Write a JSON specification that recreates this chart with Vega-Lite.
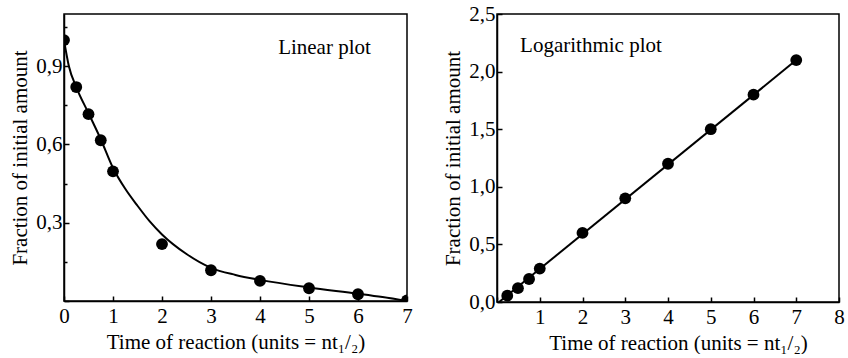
{
  "$schema": "https://vega.github.io/schema/vega-lite/v6.json",
  "padding": {"left": 9, "top": 2, "right": 0, "bottom": 0},
  "background": "white",
  "spacing": 29,
  "datasets": {
    "lin_points": [
      {"t": 0, "f": 1.0}, {"t": 0.25, "f": 0.82}, {"t": 0.5, "f": 0.716}, {"t": 0.75, "f": 0.616},
      {"t": 1, "f": 0.497}, {"t": 2, "f": 0.218}, {"t": 3, "f": 0.118}, {"t": 4, "f": 0.077},
      {"t": 5, "f": 0.049}, {"t": 6, "f": 0.026}, {"t": 7, "f": 0.002}
    ],
    "lin_curve": [
      {"t": 0, "f": 1.0}, {"t": 0.1, "f": 0.9}, {"t": 0.25, "f": 0.82}, {"t": 0.5, "f": 0.72},
      {"t": 0.75, "f": 0.62}, {"t": 1, "f": 0.51}, {"t": 1.25, "f": 0.43}, {"t": 1.5, "f": 0.365},
      {"t": 1.75, "f": 0.305}, {"t": 2, "f": 0.255}, {"t": 2.5, "f": 0.18}, {"t": 3, "f": 0.127},
      {"t": 3.5, "f": 0.1}, {"t": 4, "f": 0.081}, {"t": 5, "f": 0.052}, {"t": 6, "f": 0.028},
      {"t": 6.5, "f": 0.015}, {"t": 7, "f": 0.0}
    ],
    "log_points": [
      {"t": 0.24, "f": 0.055}, {"t": 0.49, "f": 0.12}, {"t": 0.75, "f": 0.2}, {"t": 1, "f": 0.29},
      {"t": 2, "f": 0.6}, {"t": 3, "f": 0.9}, {"t": 4, "f": 1.2}, {"t": 5, "f": 1.5},
      {"t": 6, "f": 1.8}, {"t": 7, "f": 2.1}
    ],
    "log_line": [
      {"t": 0.05, "f": 0.0}, {"t": 7, "f": 2.1}
    ]
  },
  "hconcat": [
    {
      "width": 343,
      "height": 287,
      "layer": [
        {
          "data": {"name": "lin_curve"},
          "mark": {"type": "line", "interpolate": "monotone", "color": "black", "strokeWidth": 2, "clip": true},
          "encoding": {
            "x": {
              "field": "t", "type": "quantitative",
              "scale": {"domain": [0, 7], "nice": false, "zero": false},
              "axis": {
                "title": "Time of reaction (units = nt₁/₂)",
                "values": [0, 0.5, 1, 1.5, 2, 2.5, 3, 3.5, 4, 4.5, 5, 5.5, 6, 6.5, 7],
                "labelExpr": "datum.value % 1 === 0 ? format(datum.value, 'd') : ''",
                "tickSize": {"condition": {"test": "datum.value % 1 !== 0", "value": -3}, "value": -5}
              }
            },
            "y": {
              "field": "f", "type": "quantitative",
              "scale": {"domain": [0, 1.1], "nice": false, "zero": false},
              "axis": {
                "title": "Fraction of initial amount",
                "labelPadding": 7,
                "values": [0, 0.15, 0.3, 0.45, 0.6, 0.75, 0.9, 1.05],
                "labelExpr": "(datum.value > 0.01 && abs(datum.value / 0.3 - round(datum.value / 0.3)) < 0.001) ? replace(format(datum.value, '.1f'), '.', ',') : ''",
                "tickSize": {"condition": {"test": "abs(datum.value / 0.3 - round(datum.value / 0.3)) > 0.001", "value": -3}, "value": -5}
              }
            }
          }
        },
        {
          "data": {"name": "lin_points"},
          "mark": {"type": "circle", "color": "black", "opacity": 1, "size": 140, "clip": true},
          "encoding": {
            "x": {"field": "t", "type": "quantitative"},
            "y": {"field": "f", "type": "quantitative"}
          }
        },
        {
          "data": {"values": [{"label": "Linear plot"}]},
          "mark": {"type": "text", "align": "left", "baseline": "middle", "font": "Liberation Serif", "fontSize": 21, "color": "black"},
          "encoding": {
            "x": {"datum": 4.37, "type": "quantitative"},
            "y": {"datum": 0.97, "type": "quantitative"},
            "text": {"field": "label", "type": "nominal"}
          }
        }
      ]
    },
    {
      "width": 342,
      "height": 288,
      "layer": [
        {
          "data": {"name": "log_line"},
          "mark": {"type": "line", "color": "black", "strokeWidth": 2, "clip": true},
          "encoding": {
            "x": {
              "field": "t", "type": "quantitative",
              "scale": {"domain": [0, 8], "nice": false, "zero": false},
              "axis": {
                "title": "Time of reaction (units = nt₁/₂)",
                "titleX": 181,
                "values": [0, 0.5, 1, 1.5, 2, 2.5, 3, 3.5, 4, 4.5, 5, 5.5, 6, 6.5, 7, 7.5, 8],
                "labelExpr": "(datum.value % 1 === 0 && datum.value > 0) ? format(datum.value, 'd') : ''",
                "tickSize": {"condition": {"test": "datum.value % 1 !== 0", "value": -3}, "value": -5}
              }
            },
            "y": {
              "field": "f", "type": "quantitative",
              "scale": {"domain": [0, 2.5], "nice": false, "zero": false},
              "axis": {
                "title": "Fraction of initial amount",
                "labelPadding": 7,
                "values": [0, 0.25, 0.5, 0.75, 1, 1.25, 1.5, 1.75, 2, 2.25, 2.5],
                "labelExpr": "(datum.value * 2) % 1 === 0 ? replace(format(datum.value, '.1f'), '.', ',') : ''",
                "tickSize": {"condition": {"test": "(datum.value * 2) % 1 !== 0", "value": -3}, "value": -5}
              }
            }
          }
        },
        {
          "data": {"name": "log_points"},
          "mark": {"type": "circle", "color": "black", "opacity": 1, "size": 140, "clip": true},
          "encoding": {
            "x": {"field": "t", "type": "quantitative"},
            "y": {"field": "f", "type": "quantitative"}
          }
        },
        {
          "data": {"values": [{"label": "Logarithmic plot"}]},
          "mark": {"type": "text", "align": "left", "baseline": "middle", "font": "Liberation Serif", "fontSize": 21, "color": "black"},
          "encoding": {
            "x": {"datum": 0.54, "type": "quantitative"},
            "y": {"datum": 2.22, "type": "quantitative"},
            "text": {"field": "label", "type": "nominal"}
          }
        }
      ]
    }
  ],
  "config": {
    "view": {"stroke": "black", "strokeWidth": 1.5},
    "axis": {
      "grid": false,
      "domainColor": "black",
      "domainWidth": 1.5,
      "tickColor": "black",
      "tickWidth": 1.5,
      "labelFont": "Liberation Serif",
      "labelFontSize": 21,
      "labelColor": "black",
      "labelFlush": false,
      "labelOverlap": false,
      "labelPadding": 9,
      "titleFont": "Liberation Serif",
      "titleFontSize": 21,
      "titleFontWeight": "normal",
      "titleColor": "black",
      "titlePadding": 5
    }
  }
}
